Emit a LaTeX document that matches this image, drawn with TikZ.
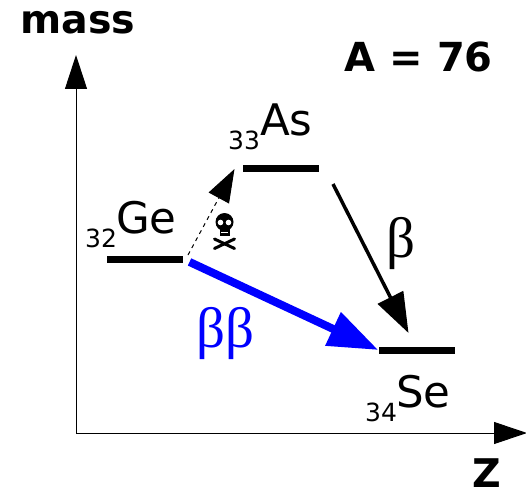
\documentclass[tikz,border=0pt]{standalone}
\usepackage{fontspec}
\setmainfont{DejaVu Sans}
\newfontfamily\betafont{Liberation Serif}
\usetikzlibrary{calc,arrows.meta}
\tikzset{
  levelbar/.style={fill=black,inner sep=0pt,minimum width=76pt,minimum height=7pt},
  bigtext/.style={anchor=base west,inner sep=0pt,font=\fontsize{43.5}{43.5}\selectfont},
  subtext/.style={anchor=base west,inner sep=0pt,font=\fontsize{25}{25}\selectfont},
  boldtext/.style={anchor=base west,inner sep=0pt,font=\fontsize{39.5}{39.5}\selectfont\bfseries},
  betatext/.style={anchor=base west,inner sep=0pt,font=\fontsize{57}{57}\selectfont\betafont},
  bonepart/.style={line width=3pt,line cap=round}
}
\begin{document}
\begin{tikzpicture}[x=1pt,y=-1pt]
        \useasboundingbox (0,0) rectangle (526,492);
        %
        \coordinate (O) at (76,433);
        \coordinate (massEnd) at (76,55);
        \coordinate (zEnd) at (527,433);

        \draw[line width=1pt,-{Triangle[length=34pt,width=22pt]}] (O) -- (massEnd);
        \draw[line width=1pt,-{Triangle[length=33pt,width=22pt]}] (O) -- (zEnd);

        %
        \node[levelbar] (Ge) at (145,259) {};
        \node[levelbar] (As) at (280.5,168) {};
        \node[levelbar] (Se) at (416.5,350) {};

        \coordinate (dashStart) at (188,255);
        \coordinate (dashEnd) at (234.5,169);
        \coordinate (betaStart) at (333,184);
        \coordinate (betaEnd) at (408.5,333);

        \draw[line width=1pt,dash pattern=on 4pt off 4pt,-{Triangle[length=33pt,width=23pt]}] (dashStart) -- (dashEnd);
        \draw[line width=3.5pt,-{Triangle[length=40pt,width=28pt]}] (betaStart) -- (betaEnd);
        \draw[blue,line width=8pt,shorten <=7pt,-{Triangle[length=50pt,width=35pt]}] (Ge.east) -- (Se.west);

        %
        \node[subtext] (zGe) at (85,247.5) {32};
        \node[bigtext] (nameGe) at (116,233) {Ge};
        \node[subtext] (zAs) at (228,149) {33};
        \node[bigtext] (nameAs) at (260,135) {As};
        \node[subtext] (zSe) at (365,421) {34};
        \node[bigtext] (nameSe) at (396,407) {Se};

        \node[boldtext] (mass) at (20,34) {mass};
        \node[boldtext] (zLabel) at (472,487) {Z};
        \node[boldtext,font=\fontsize{40}{40}\selectfont\bfseries] (massNumber) at (344.5,72) {A = 76};

        \node[betatext] (beta) at (386,257) {β};
        \node[betatext,blue] (betabeta) at (196.5,347) {ββ};

        %
        \fill (224.5,222) ellipse (9pt and 9pt);
        \fill (219.5,226) rectangle (229.5,236);
        \fill[white] (220.5,222.5) circle (2.8pt);
        \fill[white] (228.5,222.5) circle (2.8pt);
        \fill[white] (221,232) rectangle (228,233);
        \draw[bonepart] (214.5,239) -- (234.5,248.5);
        \draw[bonepart] (234.5,239) -- (214.5,248.5);
    \end{tikzpicture}
\end{document}
